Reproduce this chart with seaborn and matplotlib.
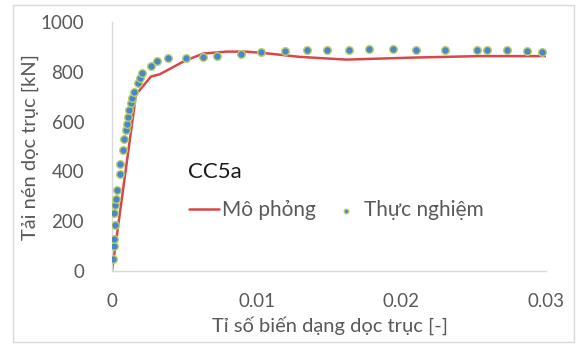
import matplotlib
matplotlib.use("Agg")
import matplotlib.pyplot as plt
import seaborn as sns
import pandas as pd
from matplotlib.patches import Rectangle

# Simulation curve (Mô phỏng)
sim_strain = [0.0, 0.00166, 0.0027, 0.0033, 0.00503, 0.0063, 0.00791, 0.00929,
              0.0109, 0.01297, 0.01619, 0.02078, 0.02538, 0.030]
sim_load = [0, 709, 781, 790, 844, 873, 881, 881, 873, 860, 849, 857, 863, 863]

# Experiment points (Thực nghiệm)
exp_strain = [0.00005, 0.00014, 0.00014, 0.00019, 0.00014, 0.00021, 0.00028, 0.00034,
              0.00053, 0.00057, 0.00076, 0.00085, 0.00094, 0.00101, 0.00112, 0.00119,
              0.00129, 0.00138, 0.00154, 0.00177, 0.00191, 0.00207, 0.00269, 0.00308,
              0.00386, 0.0051, 0.0063, 0.00729, 0.00892, 0.01028, 0.01193, 0.01347,
              0.01488, 0.01637, 0.01779, 0.01943, 0.02103, 0.02299, 0.02522, 0.02591,
              0.02731, 0.02871, 0.02972]
exp_load = [48, 101, 130, 185, 234, 266, 290, 326,
            391, 431, 486, 532, 568, 592, 620, 646,
            673, 693, 720, 756, 776, 796, 823, 845,
            854, 854, 861, 862, 873, 879, 884, 887,
            889, 889, 892, 892, 888, 888, 887, 887,
            887, 884, 879]

x_ticks = [0, 0.01, 0.02, 0.03]
x_tick_labels = ["0", "0.01", "0.02", "0.03"]
y_ticks = [0, 200, 400, 600, 800, 1000]

sim_df = pd.DataFrame({"strain": sim_strain, "load": sim_load})
exp_df = pd.DataFrame({"strain": exp_strain, "load": exp_load})

sns.set_theme(style="white")
plt.rcParams["font.family"] = ["Lato", "Open Sans", "DejaVu Sans"]

fig = plt.figure(figsize=(5.79, 3.47), dpi=100)
ax = fig.add_axes([112/579, 1-271/347, (546-112)/579, (271-22)/347])

grey_text = "#595959"
sns.lineplot(data=sim_df, x="strain", y="load", ax=ax, color="#d9474a",
             linewidth=1.8, label="Mô phỏng", sort=False)
sns.scatterplot(data=exp_df, x="strain", y="load", ax=ax, color="#4a86c8",
                edgecolor="#b5cf6b", linewidth=1.0, s=30, label="Thực nghiệm", zorder=3)

ax.set_xlim(0, 0.03)
ax.set_ylim(0, 1000)
ax.set_xticks(x_ticks)
ax.set_xticklabels(x_tick_labels)
ax.set_yticks(y_ticks)
ax.tick_params(axis="both", length=0, labelsize=13.5, colors=grey_text)
ax.tick_params(axis="x", pad=16)
ax.tick_params(axis="y", pad=20)
ax.set_xlabel("Tỉ số biến dạng dọc trục [-]", fontsize=14.5, color=grey_text)
ax.set_ylabel("Tải nén dọc trục [kN]", fontsize=14.5, color=grey_text)
ax.xaxis.set_label_coords(0.5 + (330 - 329)/434, -(326-271)/249)
ax.xaxis.label.set_va("center")
ax.yaxis.set_label_coords(-(112-30)/434, 0.5)
ax.yaxis.label.set_va("center")

for s in ["top", "right"]:
    ax.spines[s].set_visible(False)
for s in ["left", "bottom"]:
    ax.spines[s].set_color("#d9d9d9")
    ax.spines[s].set_linewidth(1.0)

ax.text(0.00525, 398, "CC5a", fontsize=16, color="#1a1a1a", va="center", ha="left")

leg = ax.legend(loc="center left", bbox_to_anchor=((189-112)/434, 0.245),
                ncol=2, frameon=False, fontsize=15, markerscale=0.6,
                handlelength=1.45, handletextpad=0.15, columnspacing=0.7,
                borderaxespad=0, borderpad=0)
for t in leg.get_texts():
    t.set_color(grey_text)

fig.patches.append(Rectangle((13/579, 1-342/347), (574-13)/579, (342-5)/347,
                             transform=fig.transFigure, fill=False,
                             edgecolor="#d9d9d9", linewidth=1.0))

fig.savefig("out.png", dpi=100, facecolor="white")
